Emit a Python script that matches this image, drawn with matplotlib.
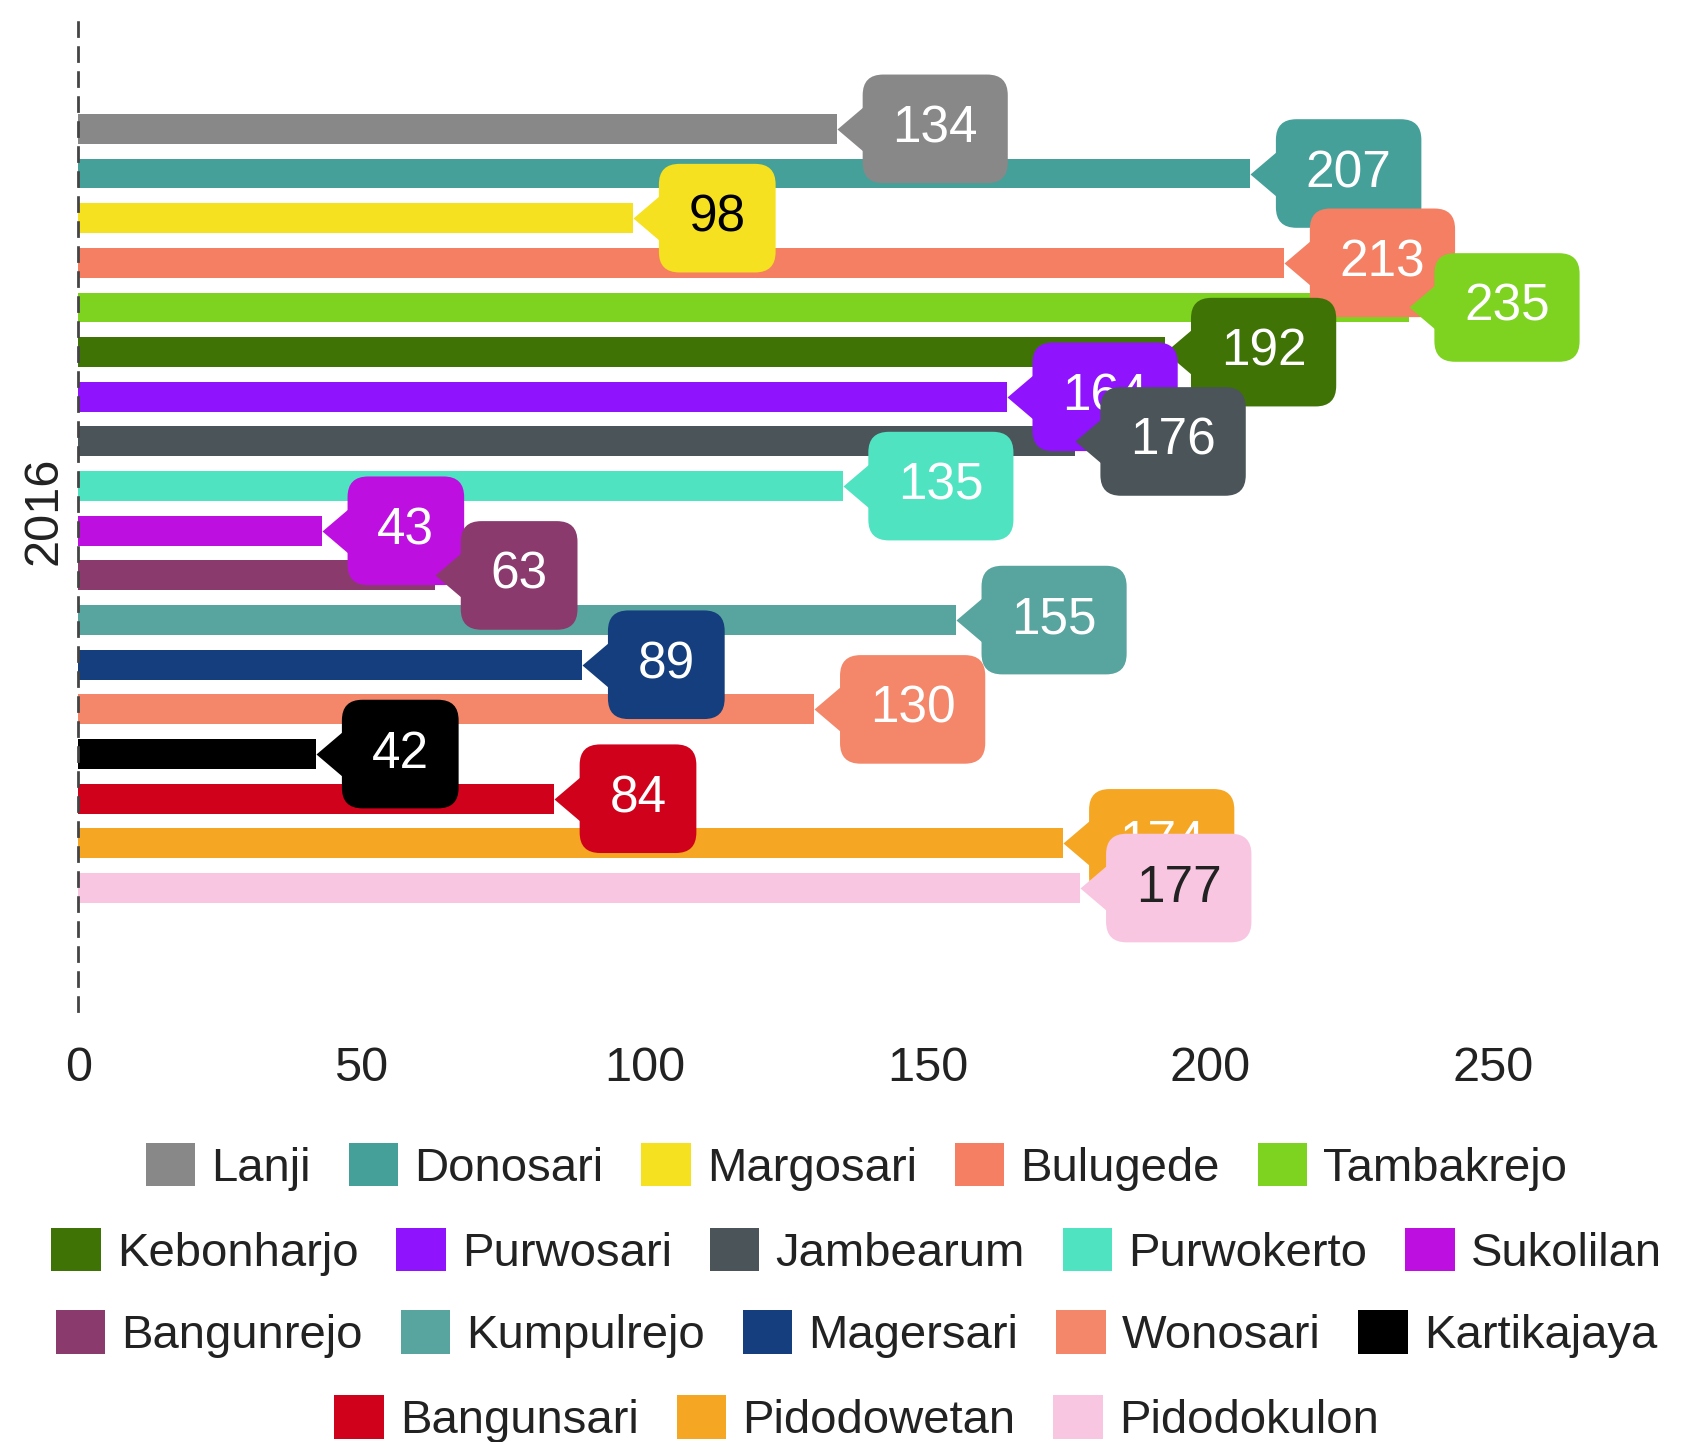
import matplotlib
matplotlib.use('Agg')
import matplotlib.pyplot as plt
from matplotlib.path import Path
from matplotlib.patches import Patch

plt.rcParams['font.family'] = ['Liberation Sans', 'DejaVu Sans']

# data
villages = ['Lanji', 'Donosari', 'Margosari', 'Bulugede', 'Tambakrejo',
            'Kebonharjo', 'Purwosari', 'Jambearum', 'Purwokerto', 'Sukolilan',
            'Bangunrejo', 'Kumpulrejo', 'Magersari', 'Wonosari', 'Kartikajaya',
            'Bangunsari', 'Pidodowetan', 'Pidodokulon']
values = [134, 207, 98, 213, 235, 192, 164, 176, 135, 43, 63, 155, 89, 130, 42, 84, 174, 177]
colors = ['#888888', '#45a09a', '#f5e11f', '#f47f62', '#7ed321',
          '#3f7306', '#9013fe', '#4a5459', '#50e3c2', '#bd10e0',
          '#8b3a6e', '#58a49e', '#143e7d', '#f4876a', '#000000',
          '#d0021b', '#f5a623', '#f8c6e0']
text_colors = ['white', 'white', 'black', 'white', 'white',
               'white', 'white', 'white', 'white', 'white',
               'white', 'white', 'white', 'white', 'white',
               'white', 'white', '#222222']
year = '2016'
xticks = [0, 50, 100, 150, 200, 250]
legend_rows = [[0, 1, 2, 3, 4], [5, 6, 7, 8, 9], [10, 11, 12, 13, 14], [15, 16, 17]]

fig = plt.figure(figsize=(16.86, 14.42), dpi=100)
ax = fig.add_axes([0.0465, 0.299, 0.9535, 0.69])

ypos = list(range(len(values)))
ax.barh(ypos, values, height=0.67, color=colors, zorder=2)

# callout arrow tip sits at the bar end, pointing left
arrow = Path([(0, 0), (1, -0.85), (1, 0.85), (0, 0)],
             [Path.MOVETO, Path.LINETO, Path.LINETO, Path.CLOSEPOLY])
for i, v in enumerate(values):
    z = 3 + i * 0.01
    ax.plot(v, i, marker=arrow, markersize=48, color=colors[i],
            markeredgewidth=0, zorder=z)
    ax.annotate(str(v), xy=(v, i), xytext=(40, 0), textcoords='offset points',
                ha='left', va='center', fontsize=37, color=text_colors[i],
                bbox=dict(boxstyle='round,pad=0.58,rounding_size=0.4',
                          fc=colors[i], ec='none'),
                zorder=z)

ax.set_xlim(0, 284)
ax.set_ylim(len(values) - 1 + 2.75, -2.53)
ax.set_xticks(xticks)
ax.set_xticklabels([str(t) for t in xticks])
ax.set_yticks([])
ax.tick_params(axis='x', length=0, pad=25, labelsize=35, labelcolor='#222222')
for s in ['top', 'right', 'bottom']:
    ax.spines[s].set_visible(False)
ax.spines['left'].set_linestyle((0, (5, 4)))
ax.spines['left'].set_color('#444444')
ax.spines['left'].set_linewidth(2)
ax.spines['left'].set_zorder(5)

fig.text(0.026, 0.646, year, rotation=90, ha='center', va='center',
         fontsize=35, color='#222222')

row_y = [0.191, 0.132, 0.075, 0.016]
for r, row in enumerate(legend_rows):
    handles = [Patch(facecolor=colors[k], edgecolor='none') for k in row]
    labels = [villages[k] for k in row]
    leg = fig.legend(handles, labels, ncol=len(row), loc='center',
                     bbox_to_anchor=(0.508, row_y[r]), frameon=False,
                     fontsize=34, handlelength=1.05, handleheight=1.05,
                     handletextpad=0.34, columnspacing=0.8, borderpad=0,
                     labelcolor='#222222')

fig.savefig('out.png', dpi=100)
